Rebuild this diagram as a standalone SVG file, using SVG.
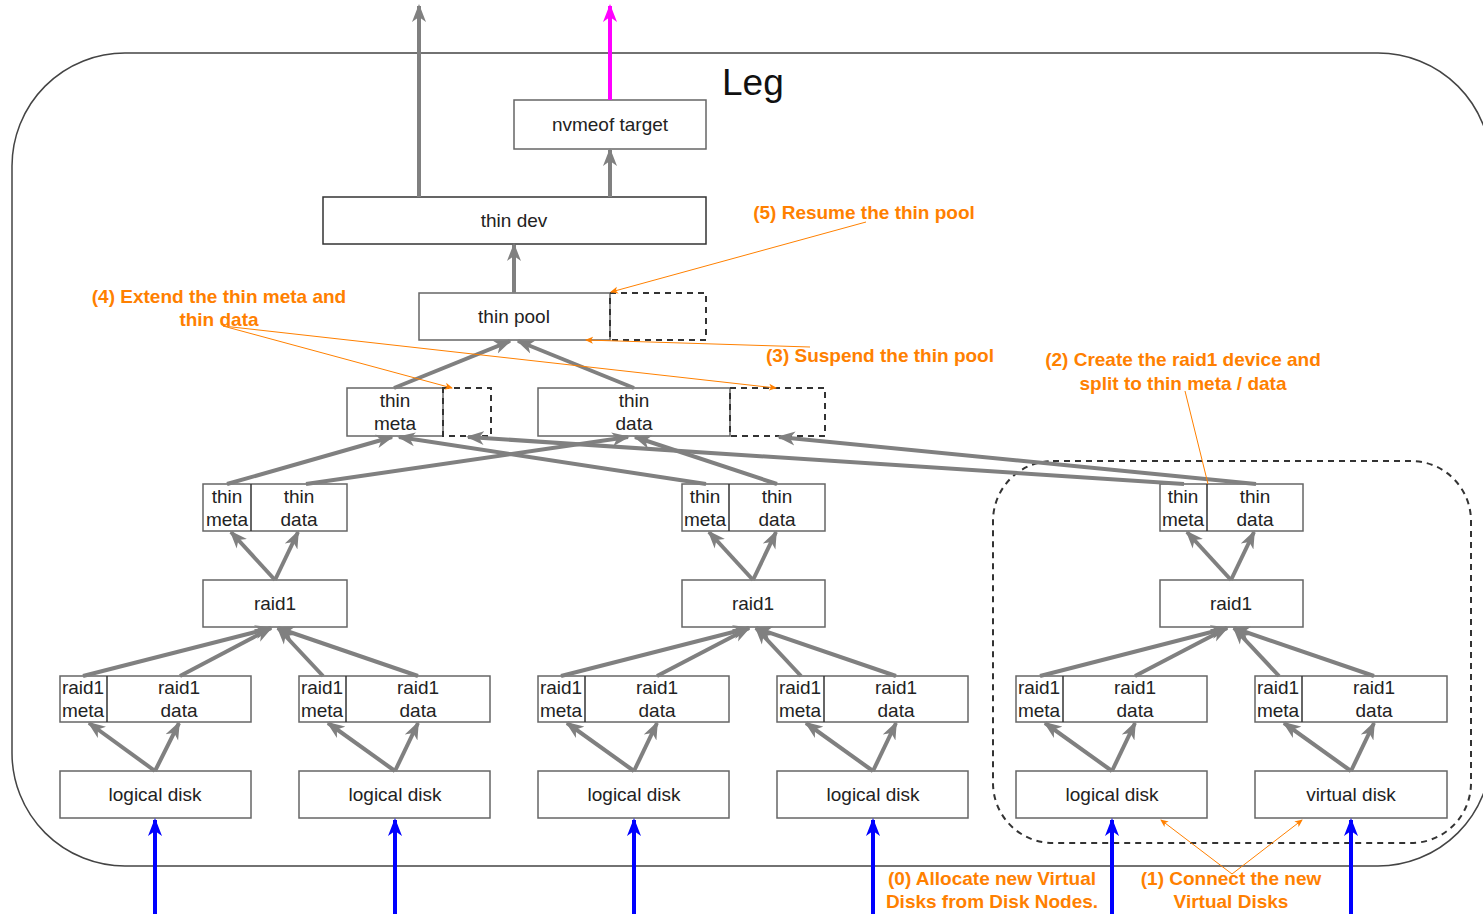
<svg xmlns="http://www.w3.org/2000/svg" width="1483" height="916" viewBox="0 0 1483 916">
<style>
.box{fill:#fff;stroke:#666;stroke-width:1.5}
.dbox{fill:none;stroke:#333;stroke-width:2;stroke-dasharray:6 5}
.t{font-family:"Liberation Sans",Arial,sans-serif;font-size:19px;fill:#222;text-anchor:middle}
.o{font-family:"Liberation Sans",Arial,sans-serif;font-size:19px;font-weight:bold;fill:#FF8000;text-anchor:middle}
.g{stroke:#808080;stroke-width:4;fill:none;marker-end:url(#ag)}
.b{stroke:#0000FF;stroke-width:4;fill:none;marker-end:url(#ab)}
.m{stroke:#FF00FF;stroke-width:4;fill:none;marker-end:url(#am)}
.ol{stroke:#FF8000;stroke-width:1;fill:none}
.oa{stroke:#FF8000;stroke-width:1;fill:none;marker-end:url(#ao)}
</style>
<defs>
<marker id="ag" markerUnits="userSpaceOnUse" markerWidth="18" markerHeight="16" viewBox="0 0 18 16" refX="16" refY="8" orient="auto"><path d="M0,1 L18,8 L0,15 L5,8 z" fill="#808080"/></marker>
<marker id="ab" markerUnits="userSpaceOnUse" markerWidth="18" markerHeight="16" viewBox="0 0 18 16" refX="16" refY="8" orient="auto"><path d="M0,1 L18,8 L0,15 L5,8 z" fill="#0000FF"/></marker>
<marker id="am" markerUnits="userSpaceOnUse" markerWidth="18" markerHeight="16" viewBox="0 0 18 16" refX="16" refY="8" orient="auto"><path d="M0,1 L18,8 L0,15 L5,8 z" fill="#FF00FF"/></marker>
<marker id="ao" markerUnits="userSpaceOnUse" markerWidth="8" markerHeight="8" viewBox="0 0 8 8" refX="7" refY="4" orient="auto"><path d="M0,0.5 L8,4 L0,7.5 L2,4 z" fill="#FF8000"/></marker>
</defs>
<rect width="1483" height="916" fill="#fff"/>

<g id="leg">
<rect x="12" y="53" width="1479" height="813" rx="113" ry="113" fill="none" stroke="#444" stroke-width="1.5"/>
<text x="722" y="95" font-family="Liberation Sans,Arial,sans-serif" font-size="37" fill="#111">Leg</text>
</g>

<g id="new-group">
<rect x="993" y="461" width="478" height="382" rx="60" ry="60" fill="none" stroke="#333" stroke-width="2" stroke-dasharray="6 5"/>
</g>

<g id="nvmeof-target">
<rect class="box" x="514" y="100" width="192" height="49"/>
<text class="t" x="610" y="131">nvmeof target</text>
</g>
<g id="thin-dev">
<rect class="box" x="323" y="197" width="383" height="47" style="stroke:#333"/>
<text class="t" x="514" y="227">thin dev</text>
</g>
<g id="thin-pool">
<rect class="box" x="419" y="293" width="191" height="47"/>
<rect class="dbox" x="610" y="293" width="96" height="47"/>
<text class="t" x="514" y="323">thin pool</text>
</g>
<g id="thin-meta">
<rect class="box" x="347" y="388" width="96" height="48"/>
<rect class="dbox" x="443" y="388" width="48" height="48"/>
<text class="t" x="395" y="407">thin</text>
<text class="t" x="395" y="430">meta</text>
</g>
<g id="thin-data">
<rect class="box" x="538" y="388" width="192" height="48"/>
<rect class="dbox" x="730" y="388" width="95" height="48"/>
<text class="t" x="634" y="407">thin</text>
<text class="t" x="634" y="430">data</text>
</g>

<g id="split-1">
<rect class="box" x="203" y="484" width="144" height="47"/>
<line x1="251" y1="484" x2="251" y2="531" stroke="#333" stroke-width="1.5"/>
<text class="t" x="227" y="503">thin</text><text class="t" x="227" y="526">meta</text>
<text class="t" x="299" y="503">thin</text><text class="t" x="299" y="526">data</text>
</g>
<g id="split-2">
<rect class="box" x="682" y="484" width="143" height="47"/>
<line x1="729" y1="484" x2="729" y2="531" stroke="#333" stroke-width="1.5"/>
<text class="t" x="705" y="503">thin</text><text class="t" x="705" y="526">meta</text>
<text class="t" x="777" y="503">thin</text><text class="t" x="777" y="526">data</text>
</g>
<g id="split-3">
<rect class="box" x="1160" y="484" width="143" height="47"/>
<line x1="1207" y1="484" x2="1207" y2="531" stroke="#333" stroke-width="1.5"/>
<text class="t" x="1183" y="503">thin</text><text class="t" x="1183" y="526">meta</text>
<text class="t" x="1255" y="503">thin</text><text class="t" x="1255" y="526">data</text>
</g>

<g id="raid1-1"><rect class="box" x="203" y="580" width="144" height="47"/><text class="t" x="275" y="610">raid1</text></g>
<g id="raid1-2"><rect class="box" x="682" y="580" width="143" height="47"/><text class="t" x="753" y="610">raid1</text></g>
<g id="raid1-3"><rect class="box" x="1160" y="580" width="143" height="47"/><text class="t" x="1231" y="610">raid1</text></g>

<g id="rleg-1"><rect class="box" x="60" y="676" width="191" height="46"/><line x1="107" y1="676" x2="107" y2="722" stroke="#333" stroke-width="1.5"/>
<text class="t" x="83" y="694">raid1</text><text class="t" x="83" y="717">meta</text><text class="t" x="179" y="694">raid1</text><text class="t" x="179" y="717">data</text></g>
<g id="rleg-2"><rect class="box" x="299" y="676" width="191" height="46"/><line x1="346" y1="676" x2="346" y2="722" stroke="#333" stroke-width="1.5"/>
<text class="t" x="322" y="694">raid1</text><text class="t" x="322" y="717">meta</text><text class="t" x="418" y="694">raid1</text><text class="t" x="418" y="717">data</text></g>
<g id="rleg-3"><rect class="box" x="538" y="676" width="191" height="46"/><line x1="585" y1="676" x2="585" y2="722" stroke="#333" stroke-width="1.5"/>
<text class="t" x="561" y="694">raid1</text><text class="t" x="561" y="717">meta</text><text class="t" x="657" y="694">raid1</text><text class="t" x="657" y="717">data</text></g>
<g id="rleg-4"><rect class="box" x="777" y="676" width="191" height="46"/><line x1="824" y1="676" x2="824" y2="722" stroke="#333" stroke-width="1.5"/>
<text class="t" x="800" y="694">raid1</text><text class="t" x="800" y="717">meta</text><text class="t" x="896" y="694">raid1</text><text class="t" x="896" y="717">data</text></g>
<g id="rleg-5"><rect class="box" x="1016" y="676" width="191" height="46"/><line x1="1063" y1="676" x2="1063" y2="722" stroke="#333" stroke-width="1.5"/>
<text class="t" x="1039" y="694">raid1</text><text class="t" x="1039" y="717">meta</text><text class="t" x="1135" y="694">raid1</text><text class="t" x="1135" y="717">data</text></g>
<g id="rleg-6"><rect class="box" x="1255" y="676" width="192" height="46"/><line x1="1302" y1="676" x2="1302" y2="722" stroke="#333" stroke-width="1.5"/>
<text class="t" x="1278" y="694">raid1</text><text class="t" x="1278" y="717">meta</text><text class="t" x="1374" y="694">raid1</text><text class="t" x="1374" y="717">data</text></g>

<g id="disk-1"><rect class="box" x="60" y="771" width="191" height="47"/><text class="t" x="155" y="801">logical disk</text></g>
<g id="disk-2"><rect class="box" x="299" y="771" width="191" height="47"/><text class="t" x="395" y="801">logical disk</text></g>
<g id="disk-3"><rect class="box" x="538" y="771" width="191" height="47"/><text class="t" x="634" y="801">logical disk</text></g>
<g id="disk-4"><rect class="box" x="777" y="771" width="191" height="47"/><text class="t" x="873" y="801">logical disk</text></g>
<g id="disk-5"><rect class="box" x="1016" y="771" width="191" height="47"/><text class="t" x="1112" y="801">logical disk</text></g>
<g id="disk-6"><rect class="box" x="1255" y="771" width="192" height="47"/><text class="t" x="1351" y="801">virtual disk</text></g>

<g id="connectors">
<path class="g" d="M155,771 L89,723"/><path class="g" d="M155,771 L179,723"/>
<path class="g" d="M395,771 L328,723"/><path class="g" d="M395,771 L418,723"/>
<path class="g" d="M634,771 L567,723"/><path class="g" d="M634,771 L657,723"/>
<path class="g" d="M873,771 L806,723"/><path class="g" d="M873,771 L896,723"/>
<path class="g" d="M1112,771 L1045,723"/><path class="g" d="M1112,771 L1135,723"/>
<path class="g" d="M1351,771 L1284,723"/><path class="g" d="M1351,771 L1374,723"/>

<path class="g" d="M83,676 L271,628"/><path class="g" d="M180,676 L271,628"/>
<path class="g" d="M323,676 L278,628"/><path class="g" d="M418,676 L278,628"/>
<path class="g" d="M561,676 L749,628"/><path class="g" d="M657,676 L749,628"/>
<path class="g" d="M801,676 L756,628"/><path class="g" d="M896,676 L756,628"/>
<path class="g" d="M1040,676 L1227,628"/><path class="g" d="M1135,676 L1227,628"/>
<path class="g" d="M1279,676 L1234,628"/><path class="g" d="M1374,676 L1234,628"/>

<path class="g" d="M275,580 L231,532"/><path class="g" d="M275,580 L298,532"/>
<path class="g" d="M753,580 L709,532"/><path class="g" d="M753,580 L776,532"/>
<path class="g" d="M1231,580 L1187,532"/><path class="g" d="M1231,580 L1254,532"/>

<path class="g" d="M227,484 L392,437"/><path class="g" d="M306,484 L628,437"/>
<path class="g" d="M706,484 L399,437"/><path class="g" d="M777,484 L635,437"/>
<path class="g" d="M1184,484 L468,437"/><path class="g" d="M1256,484 L779,437"/>

<path class="g" d="M394,388 L510,341"/><path class="g" d="M634,388 L518,341"/>
<path class="g" d="M514,293 L514,245"/>
<path class="g" d="M419,197 L419,6"/>
<path class="g" d="M610,197 L610,150"/>
<path class="m" d="M610,100 L610,6"/>

<path class="b" d="M155,914 L155,820"/><path class="b" d="M395,914 L395,820"/>
<path class="b" d="M634,914 L634,820"/><path class="b" d="M873,914 L873,820"/>
<path class="b" d="M1112,914 L1112,820"/><path class="b" d="M1351,914 L1351,820"/>

<path class="oa" d="M866,222 L611,292"/>
<path class="oa" d="M810,347 L586,340"/>
<path class="oa" d="M223,326 L452,388"/>
<path class="oa" d="M223,326 L776,388"/>
<path class="ol" d="M1185,391 L1208,484"/>
<path class="oa" d="M1232,874 L1161,820"/>
<path class="oa" d="M1232,874 L1302,820"/>
</g>

<g id="annotations">
<text class="o" x="864" y="219">(5) Resume the thin pool</text>
<text class="o" x="219" y="303">(4) Extend the thin meta and</text>
<text class="o" x="219" y="326">thin data</text>
<text class="o" x="880" y="362">(3) Suspend the thin pool</text>
<text class="o" x="1183" y="366">(2) Create the raid1 device and</text>
<text class="o" x="1183" y="390">split to thin meta / data</text>
<text class="o" x="992" y="885">(0) Allocate new Virtual</text>
<text class="o" x="992" y="908">Disks from Disk Nodes.</text>
<text class="o" x="1231" y="885">(1) Connect the new</text>
<text class="o" x="1231" y="908">Virtual Disks</text>
</g>
</svg>
